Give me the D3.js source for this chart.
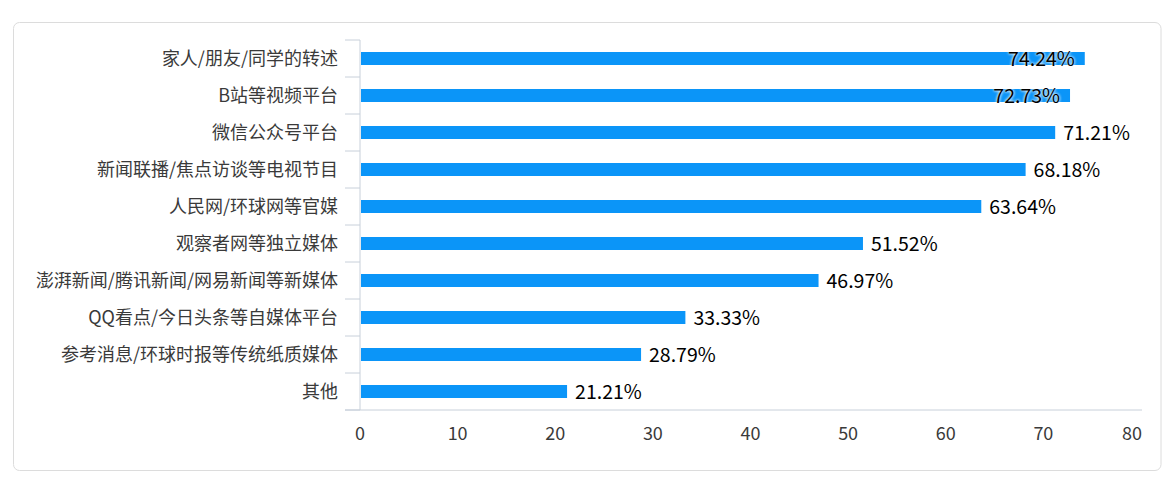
<!DOCTYPE html>
<html><head><meta charset="utf-8">
<script src="https://cdn.jsdelivr.net/npm/d3@7"></script>
<style>
html,body{margin:0;padding:0;background:#fff;}
svg{display:block;font-family:"Noto Sans CJK SC","Noto Sans",sans-serif;}
</style></head>
<body><svg id="c" width="1164" height="486"></svg>
<script>
const categories = ["家人/朋友/同学的转述","B站等视频平台","微信公众号平台","新闻联播/焦点访谈等电视节目","人民网/环球网等官媒","观察者网等独立媒体","澎湃新闻/腾讯新闻/网易新闻等新媒体","QQ看点/今日头条等自媒体平台","参考消息/环球时报等传统纸质媒体","其他"];
const values = [74.24,72.73,71.21,68.18,63.64,51.52,46.97,33.33,28.79,21.21];
const xTicks = [0,10,20,30,40,50,60,70,80];

(function(){
const svg = d3.select("#c");
svg.append("rect").attr("x",13.5).attr("y",22.5).attr("width",1147.5).attr("height",448)
  .attr("rx",6).attr("fill","#fff").attr("stroke","#dcdcdc");

const L=360, R=1141, T=40, B=410;
const x = d3.scaleLinear().domain([0,80]).range([L,R]);
const yb = d3.scaleBand().domain(categories).range([T,B]);

// y axis
const ya = svg.append("g");
ya.append("line").attr("x1",L).attr("x2",L).attr("y1",T).attr("y2",B).attr("stroke","#c8d0da");
const bounds = categories.map(c=>yb(c)).concat([B]);
ya.selectAll("line.t").data(bounds).join("line").attr("class","t")
  .attr("x1",L-15).attr("x2",L).attr("y1",d=>d).attr("y2",d=>d).attr("stroke","#c8d0da");
ya.selectAll("text").data(categories).join("text")
  .attr("x",338).attr("y",c=>yb(c)+yb.bandwidth()/2).attr("dy","0.35em")
  .attr("text-anchor","end").attr("font-size",18).attr("fill","#3a3a3a").text(c=>c);

// x axis
svg.append("line").attr("x1",L-15).attr("x2",R+1).attr("y1",B).attr("y2",B).attr("stroke","#c8d0da");
svg.selectAll("text.xt").data(xTicks).join("text").attr("class","xt")
  .attr("x",(d,i)=> i===xTicks.length-1 ? x(d)+1 : x(d))
  .attr("text-anchor",(d,i)=> i===xTicks.length-1 ? "end" : "middle")
  .attr("y",434).attr("dy","0.35em").attr("font-size",18).attr("fill","#3a3a3a").text(d=>d);

// bars
svg.selectAll("rect.bar").data(values).join("rect").attr("class","bar")
  .attr("x",L+1).attr("y",(d,i)=>yb(categories[i])+yb.bandwidth()/2-6.5)
  .attr("width",d=>x(d)-L-1).attr("height",13).attr("fill","#0b95f8");

// value labels
const lab = svg.selectAll("text.v").data(values).join("text").attr("class","v")
  .attr("y",(d,i)=>yb(categories[i])+yb.bandwidth()/2+1).attr("dy","0.35em")
  .attr("font-size",19.5).attr("fill","#000")
  .style("text-shadow","0 0 3px #fff, 0 0 3px #fff")
  .text(d=>d.toFixed(2)+"%");
lab.each(function(d){
  const w=this.getComputedTextLength();
  const sel=d3.select(this);
  if (x(d)+8+w>1135) sel.attr("x",x(d)-10).attr("text-anchor","end");
  else sel.attr("x",x(d)+8).attr("text-anchor","start");
});
})();
</script></body></html>
